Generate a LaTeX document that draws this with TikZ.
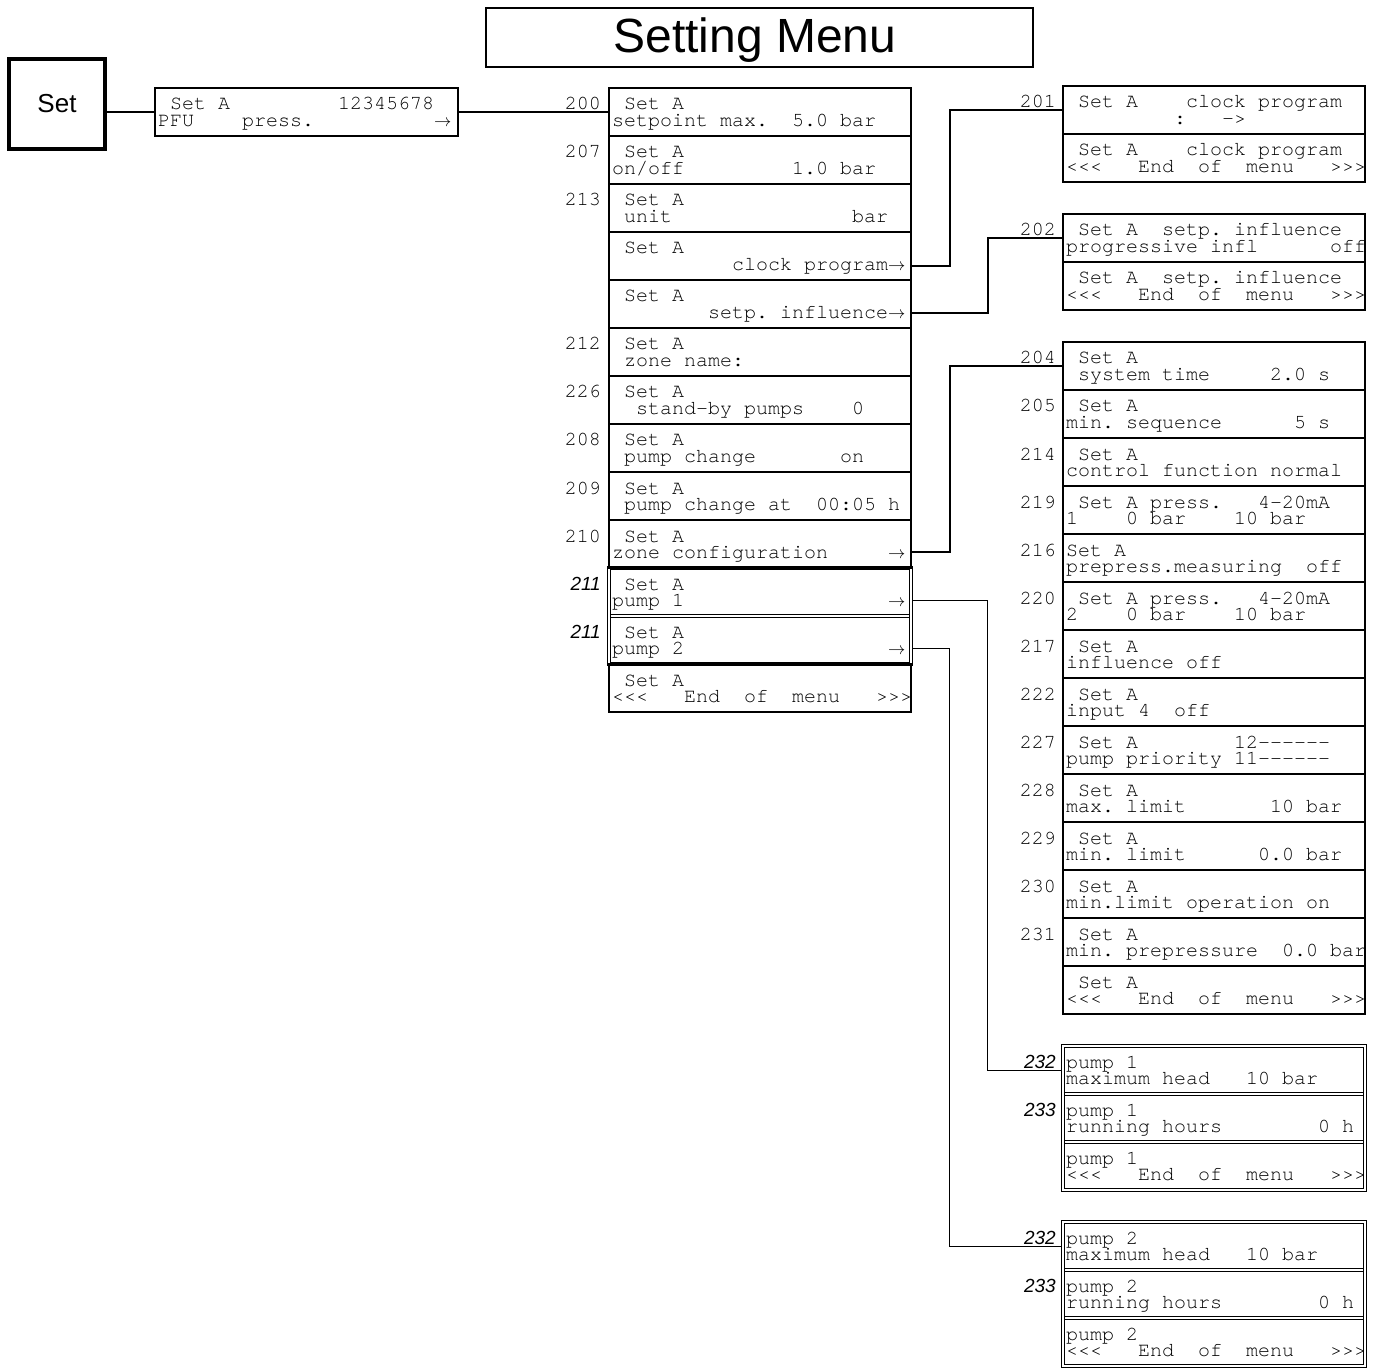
\documentclass[tikz,border=0pt]{standalone}
\usepackage{fontspec}
\setmainfont{Liberation Sans}
\newfontfamily\cur{texgyrecursor-regular.otf}[Ligatures={TeXOff,NoCommon}]
\newfontfamily\lsans{Liberation Sans}
\newcommand\arr{{\fontsize{19}{19}\selectfont$\rightarrow$}}
\tikzset{
  rowbox/.style={draw, line width=2pt, minimum width=302pt, minimum height=48pt, inner sep=0pt},
  plainrow/.style={minimum width=302pt, minimum height=48pt, inner sep=0pt},
  dline/.style={line width=0.8pt},
  txt/.style={anchor=base west, inner sep=0pt, font=\cur\fontsize{20}{20}\selectfont},
  numlbl/.style={anchor=base east, inner sep=0pt, font=\cur\fontsize{20}{20}\selectfont},
  itlbl/.style={anchor=base east, inner sep=0pt, font=\lsans\itshape\fontsize{19}{19}\selectfont},
  conn/.style={line width=2pt},
  thinconn/.style={line width=1pt}
}
\newcommand\mrow[6]{%
  \node[#4] (#1) at ({#2+151},{#3+24}) {};
  \node[txt] (#1a) at ({#2+3},{#3+22}) {#5};
  \node[txt] (#1b) at ({#2+3},{#3+38.5}) {#6};
}
% double-lined group frame: x1 y1 x2 y2 {separators}
\newcommand\dblgrp[5]{%
  \draw[dline] ({#1-1.5},{#2-1.5}) rectangle ({#3+1.5},{#4+1.5});
  \draw[dline] ({#1+1.5},{#2+1.5}) rectangle ({#3-1.5},{#4-1.5});
  \foreach \s in {#5} {%
    \draw[dline] ({#1+1.5},{\s-1.5}) -- ({#3-1.5},{\s-1.5});
    \draw[dline] ({#1+1.5},{\s+1.5}) -- ({#3-1.5},{\s+1.5});
  }%
}
\begin{document}
\begin{tikzpicture}[x=1pt,y=-1pt]
\useasboundingbox (0,0) rectangle (1377,1372);
% title
\node[draw, line width=2pt, minimum width=547pt, minimum height=59pt, inner sep=0pt] (title) at (759.5,37.5) {};
\node[anchor=base, inner sep=0pt, font=\lsans\fontsize{48}{48}\selectfont] (titletext) at (755,53) {Setting Menu};
% Set key
\node[draw, line width=3.5pt, minimum width=96pt, minimum height=90pt, inner sep=0pt, font=\lsans\fontsize{26}{26}\selectfont] (setbox) at (57,104) {Set};
% PFU display
\node[draw, line width=2pt, minimum width=303pt, minimum height=48pt, inner sep=0pt] (pfu) at (306.5,112) {};
\node[txt] (pfua) at (158,110) {~Set~A~~~~~~~~~12345678};
\node[txt] (pfub) at (158,126.5) {PFU~~~~press.~~~~~~~~~~\arr};

% middle column
\mrow{m200}{609}{88}{rowbox}{~Set~A}{setpoint~max.~~5.0~bar}
\mrow{m207}{609}{136}{rowbox}{~Set~A}{on/off~~~~~~~~~1.0~bar}
\mrow{m213}{609}{184}{rowbox}{~Set~A}{~unit~~~~~~~~~~~~~~~bar}
\mrow{mclk}{609}{232}{rowbox}{~Set~A}{~~~~~~~~~~clock~program\arr}
\mrow{mset}{609}{280}{rowbox}{~Set~A}{~~~~~~~~setp.~influence\arr}
\mrow{m212}{609}{328}{rowbox}{~Set~A}{~zone~name:}
\mrow{m226}{609}{376}{rowbox}{~Set~A}{~~stand-by~pumps~~~~0}
\mrow{m208}{609}{424}{rowbox}{~Set~A}{~pump~change~~~~~~~on}
\mrow{m209}{609}{472}{rowbox}{~Set~A}{~pump~change~at~~00:05~h}
\mrow{mzone}{609}{520}{rowbox}{~Set~A}{zone~configuration~~~~~\arr}
\mrow{mp1}{609}{568}{plainrow}{~Set~A}{pump~1~~~~~~~~~~~~~~~~~\arr}
\mrow{mp2}{609}{616}{plainrow}{~Set~A}{pump~2~~~~~~~~~~~~~~~~~\arr}
\mrow{mend}{609}{664}{rowbox}{~Set~A}{<<<~~~End~~of~~menu~~~>>>}
\dblgrp{609}{568}{911}{664}{616}
\node[numlbl] (l200) at (601,110) {200};
\node[numlbl] (l207) at (601,158) {207};
\node[numlbl] (l213) at (601,206) {213};
\node[numlbl] (l212) at (601,350) {212};
\node[numlbl] (l226) at (601,398) {226};
\node[numlbl] (l208) at (601,446) {208};
\node[numlbl] (l209) at (601,494) {209};
\node[numlbl] (l210) at (601,542) {210};
\node[itlbl] (l211a) at (601,590) {211};
\node[itlbl] (l211b) at (601,638) {211};

% right column: clock program
\mrow{r201}{1063}{86}{rowbox}{~Set~A~~~~clock~program}{~~~~~~~~~:~~~->}
\mrow{r201e}{1063}{134}{rowbox}{~Set~A~~~~clock~program}{<<<~~~End~~of~~menu~~~>>>}
\node[numlbl] (l201) at (1056,108) {201};
% setpoint influence
\mrow{r202}{1063}{214}{rowbox}{~Set~A~~setp.~influence}{progressive~infl~~~~~~off}
\mrow{r202e}{1063}{262}{rowbox}{~Set~A~~setp.~influence}{<<<~~~End~~of~~menu~~~>>>}
\node[numlbl] (l202) at (1056,236) {202};
% zone configuration
\mrow{r204}{1063}{342}{rowbox}{~Set~A}{~system~time~~~~~2.0~s}
\mrow{r205}{1063}{390}{rowbox}{~Set~A}{min.~sequence~~~~~~5~s}
\mrow{r214}{1063}{438}{rowbox}{~Set~A}{control~function~normal}
\mrow{r219}{1063}{486}{rowbox}{~Set~A~press.~~~4-20mA}{1~~~~0~bar~~~~10~bar}
\mrow{r216}{1063}{534}{rowbox}{Set~A}{prepress.measuring~~off}
\mrow{r220}{1063}{582}{rowbox}{~Set~A~press.~~~4-20mA}{2~~~~0~bar~~~~10~bar}
\mrow{r217}{1063}{630}{rowbox}{~Set~A}{influence~off}
\mrow{r222}{1063}{678}{rowbox}{~Set~A}{input~4~~off}
\mrow{r227}{1063}{726}{rowbox}{~Set~A~~~~~~~~12------}{pump~priority~11------}
\mrow{r228}{1063}{774}{rowbox}{~Set~A}{max.~limit~~~~~~~10~bar}
\mrow{r229}{1063}{822}{rowbox}{~Set~A}{min.~limit~~~~~~0.0~bar}
\mrow{r230}{1063}{870}{rowbox}{~Set~A}{min.limit~operation~on}
\mrow{r231}{1063}{918}{rowbox}{~Set~A}{min.~prepressure~~0.0~bar}
\mrow{rend}{1063}{966}{rowbox}{~Set~A}{<<<~~~End~~of~~menu~~~>>>}
\node[numlbl] (l204) at (1056,364) {204};
\node[numlbl] (l205) at (1056,412) {205};
\node[numlbl] (l214) at (1056,460) {214};
\node[numlbl] (l219) at (1056,508) {219};
\node[numlbl] (l216) at (1056,556) {216};
\node[numlbl] (l220) at (1056,604) {220};
\node[numlbl] (l217) at (1056,652) {217};
\node[numlbl] (l222) at (1056,700) {222};
\node[numlbl] (l227) at (1056,748) {227};
\node[numlbl] (l228) at (1056,796) {228};
\node[numlbl] (l229) at (1056,844) {229};
\node[numlbl] (l230) at (1056,892) {230};
\node[numlbl] (l231) at (1056,940) {231};
% pump 1
\mrow{q1a}{1063}{1046}{plainrow}{pump~1}{maximum~head~~~10~bar}
\mrow{q1b}{1063}{1094}{plainrow}{pump~1}{running~hours~~~~~~~~0~h}
\mrow{q1c}{1063}{1142}{plainrow}{pump~1}{<<<~~~End~~of~~menu~~~>>>}
\dblgrp{1063}{1046}{1365}{1190}{1094,1142}
\node[itlbl] (l232a) at (1056,1068) {232};
\node[itlbl] (l233a) at (1056,1116) {233};
% pump 2
\mrow{q2a}{1063}{1222}{plainrow}{pump~2}{maximum~head~~~10~bar}
\mrow{q2b}{1063}{1270}{plainrow}{pump~2}{running~hours~~~~~~~~0~h}
\mrow{q2c}{1063}{1318}{plainrow}{pump~2}{<<<~~~End~~of~~menu~~~>>>}
\dblgrp{1063}{1222}{1365}{1366}{1270,1318}
\node[itlbl] (l232b) at (1056,1244) {232};
\node[itlbl] (l233b) at (1056,1292) {233};

% connectors
\draw[conn] (setbox.east |- pfu.west) -- (pfu.west);
\draw[conn] (pfu.east) -- (m200.west |- pfu.east);
\draw[conn] ([yshift=-10pt]mclk.east) -- ++(38,0) |- (r201.west);
\draw[conn] ([yshift=-9pt]mset.east) -- ++(76,0) |- (r202.west);
\draw[conn] ([yshift=-8pt]mzone.east) -- ++(38,0) |- (r204.west);
\draw[thinconn] ([xshift=1.5pt,yshift=-8pt]mp1.east) -- ++(74.5,0) |- ([xshift=-1.5pt]q1a.west);
\draw[thinconn] ([xshift=1.5pt,yshift=-8pt]mp2.east) -- ++(36.5,0) |- ([xshift=-1.5pt]q2a.west);
\end{tikzpicture}
\end{document}
